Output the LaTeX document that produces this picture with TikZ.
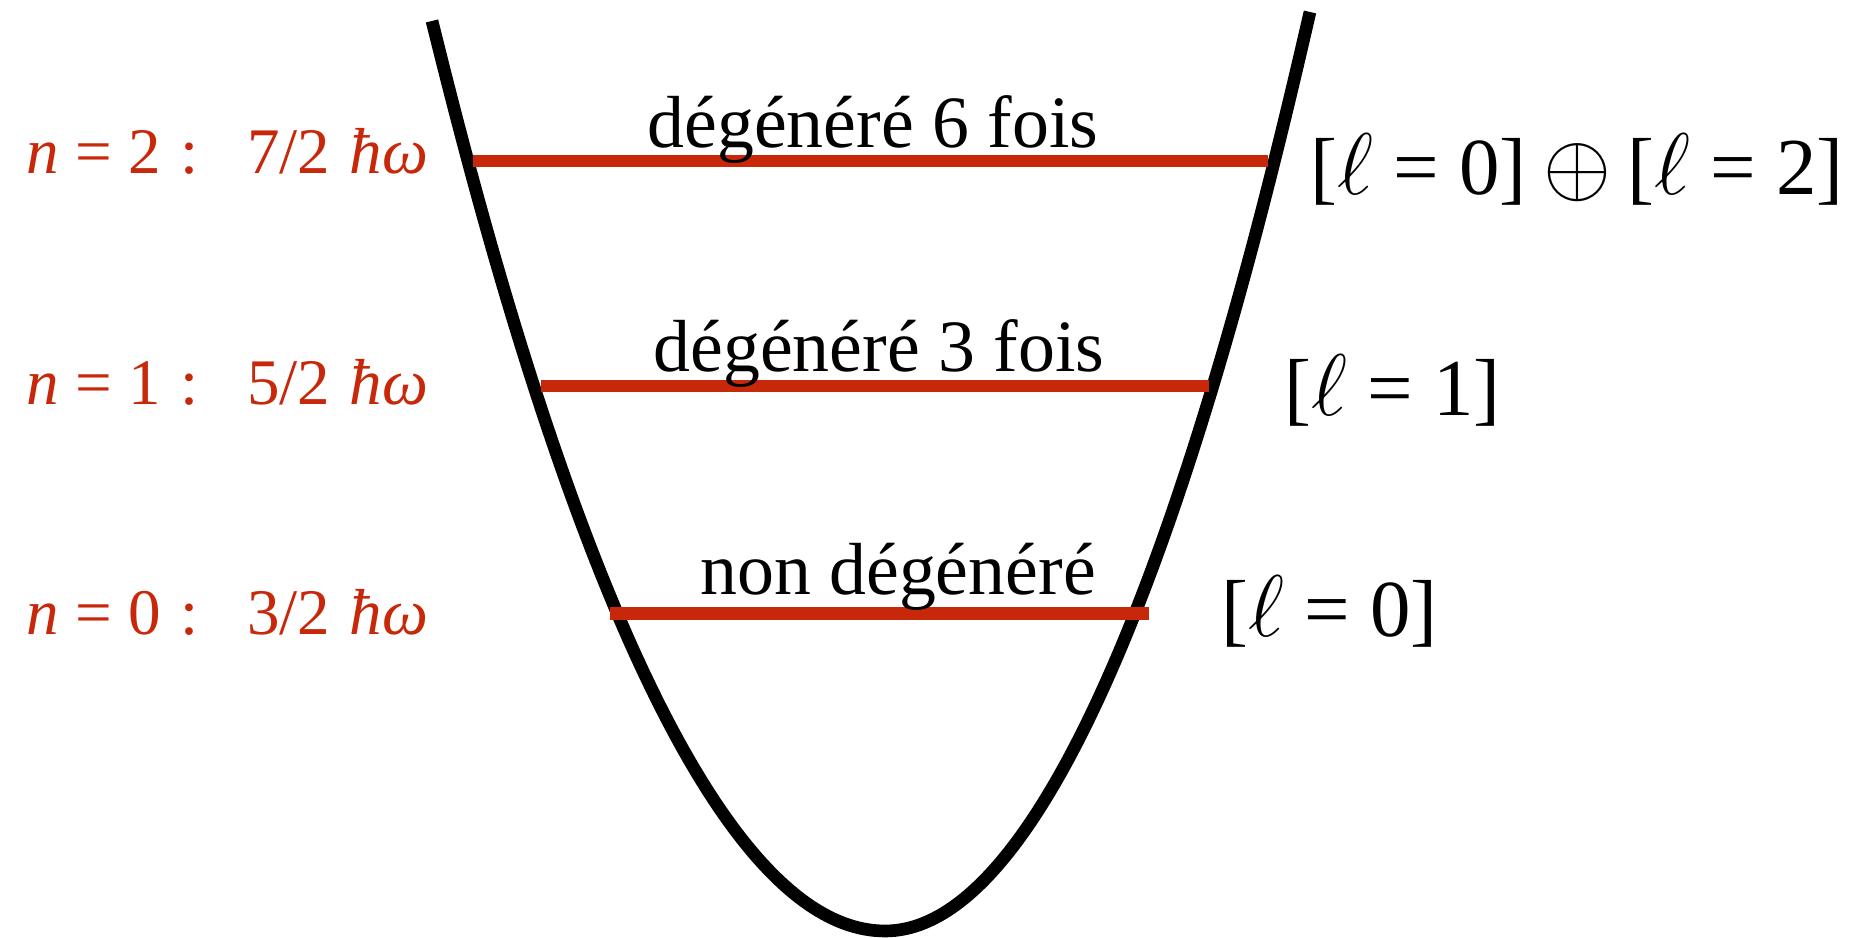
\documentclass[tikz,border=0pt]{standalone}
\usepackage{amsmath}
\usepackage{amssymb}
\usepackage{fontspec}
\setmainfont{Liberation Serif}
\usetikzlibrary{positioning}
\definecolor{level}{RGB}{200,40,10}
\newcommand{\eqsp}{\hspace{0.25em}=\hspace{0.25em}}

\begin{document}
\begin{tikzpicture}[
  every node/.style={inner sep=0pt},
  well/.style={line width=3.6pt, black},
  lvl/.style={line width=3.6pt, level},
  energy/.style={text=level, anchor=base west, font=\fontsize{18.5}{22}\selectfont},
  degen/.style={anchor=base, font=\fontsize{21}{25}\selectfont},
  lmom/.style={anchor=base west, font=\fontsize{23}{28}\selectfont}
]
\useasboundingbox (0,0) rectangle (18.55,9.38);

% potential well
\draw[well] (4.32,9.17) parabola bend (8.85,0.07) (13.10,9.26);

% energy levels
\coordinate (l2a) at (4.73,7.77);  \coordinate (l2b) at (12.68,7.77);
\coordinate (l1a) at (5.41,5.52);  \coordinate (l1b) at (12.09,5.52);
\coordinate (l0a) at (6.10,3.245); \coordinate (l0b) at (11.49,3.245);
\draw[lvl] (l2a) -- (l2b);
\draw[lvl] (l1a) -- (l1b);
\draw[lvl] (l0a) -- (l0b);

% energies
\node[energy] (e2) at (0.26,7.64) {\textit{n}\eqsp2\hspace{0.3em}:\hspace{0.75em}7/2\hspace{0.3em}\textit{ħω}};
\node[energy] (e1) at (0.26,5.33) {\textit{n}\eqsp1\hspace{0.3em}:\hspace{0.75em}5/2\hspace{0.3em}\textit{ħω}};
\node[energy] (e0) at (0.26,3.03) {\textit{n}\eqsp0\hspace{0.3em}:\hspace{0.75em}3/2\hspace{0.3em}\textit{ħω}};

% degeneracies
\node[degen] (d2) at (8.73,7.90) {dégénéré 6 fois};
\node[degen] (d1) at (8.79,5.66) {dégénéré 3 fois};
\node[degen] (d0) at (8.98,3.43) {non dégénéré};

% angular momenta
\node[lmom] (m2) at (13.10,7.43) {[$\ell$\eqsp0]\hspace{0.2em}$\oplus$\hspace{0.2em}[$\ell$\eqsp2]};
\node[lmom] (m1) at (12.84,5.22) {[$\ell$\eqsp1]};
\node[lmom] (m0) at (12.21,3.01) {[$\ell$\eqsp0]};

\end{tikzpicture}
\end{document}
